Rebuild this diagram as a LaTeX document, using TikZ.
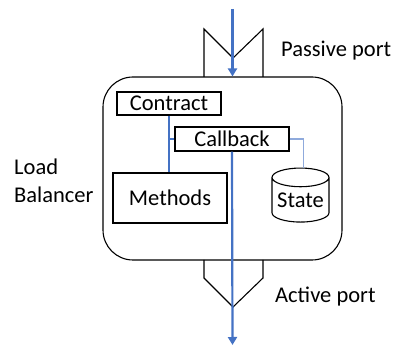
\documentclass[tikz,border=0pt]{standalone}
\usepackage{fontspec}
\setmainfont{Carlito}
\usetikzlibrary{shapes.geometric, arrows.meta}
\definecolor{flowblue}{HTML}{4472C4}
\definecolor{linkblue}{HTML}{8FAADC}

\begin{document}
\begin{tikzpicture}[x=1pt, y=-1pt, every node/.style={font=\fontsize{22.5}{28}\selectfont},
  box/.style={draw, line width=1.1pt, inner sep=0pt},
  flow/.style={flowblue, line width=2.2pt, -{Triangle[width=9pt, length=8pt]}},
  link/.style={line width=1.1pt},
  note/.style={inner sep=0pt, anchor=base west}]

  \useasboundingbox (0,0) rectangle (394,347);

  % Load balancer
  \node[box, rounded corners=30pt, minimum width=239pt, minimum height=183pt] (lb) at (222.5,168.5) {};
  \node[box, minimum width=104pt, minimum height=23pt] (contract) at (169,103.5) {Contract};
  \node[box, minimum width=114pt, minimum height=24pt] (callback) at (232,139) {Callback};
  \node[box, minimum width=114pt, minimum height=50pt] (methods) at (170,198) {Methods};
  \node[box, cylinder, shape border rotate=90, aspect=0.4, minimum width=57pt, minimum height=54pt] (state) at (300.5,200) {State};

  % Ports
  \coordinate (in) at (232.5,9);
  \coordinate (out) at (232.5,345);
  \draw[line width=1.1pt] (204,77) -- (204,29) -- (233,58) -- (263,29) -- (263,77);
  \draw[line width=1.1pt] (204,260) -- (204,278) -- (233,307) -- (263,278) -- (263,260);

  % Links
  \draw[link, draw=flowblue] (contract.south) -- (contract.south |- methods.north);
  \draw[link, draw=flowblue] (callback.west) -- (callback.west -| contract.south);
  \draw[link, draw=linkblue] (callback.east) -| ([xshift=3pt]state.north);
  \draw[flow] (in) -- (in |- lb.north);
  \draw[flow] (callback.south) -- (out);

  \node[note] (passive) at (281,57) {Passive port};
  \node[note] (active) at (275,303) {Active port};
  \node[note, align=left] (balancer) at (14,203) {Load\\Balancer};

\end{tikzpicture}
\end{document}
